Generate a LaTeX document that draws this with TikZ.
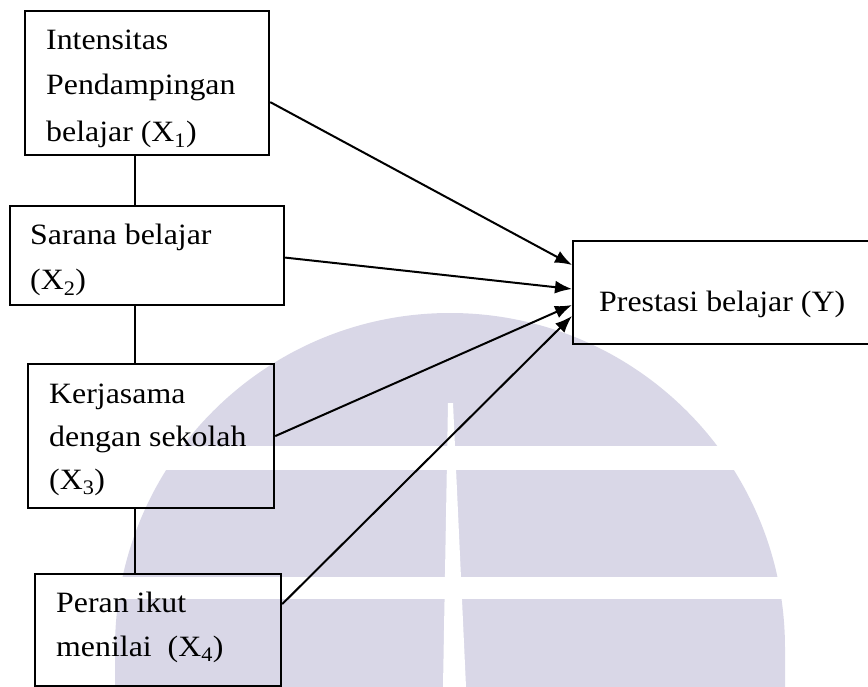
\documentclass[tikz,border=0pt]{standalone}
\usepackage{fontspec}
\setmainfont{Liberation Serif}[FakeStretch=1.08]
\usetikzlibrary{arrows.meta,calc}
\definecolor{dome}{RGB}{217,215,231}
\begin{document}
\begin{tikzpicture}[x=1pt,y=-1pt,
  box/.style={draw=black,line width=2.2pt,inner sep=0pt,anchor=north west},
  lbl/.style={anchor=base west,inner sep=0pt,font=\fontsize{29.5}{35}\selectfont},
  link/.style={line width=1.6pt},
  arr/.style={line width=2pt,-{Latex[length=17pt,width=13pt]}}]
\useasboundingbox (0,0) rectangle (868,687);

% background dome emblem with its window bars
\fill[dome] (115,648) arc[start angle=180,end angle=360,radius=335] -- (785,687) -- (115,687) -- cycle;
\fill[white] (100,446) rectangle (800,470);
\fill[white] (100,577) rectangle (800,599);
\fill[white] (448,403) -- (453,403) -- (466,687) -- (443,687) -- cycle;

% variable boxes
\node[box,minimum width=244pt,minimum height=144pt] (b1) at (24,10) {};
\node[box,minimum width=274pt,minimum height=99pt]  (b2) at (9,205) {};
\node[box,minimum width=246pt,minimum height=144pt] (b3) at (27,363) {};
\node[box,minimum width=246pt,minimum height=112pt] (b4) at (34,573) {};
\node[box,minimum width=299pt,minimum height=103pt] (y)  at (572,240) {};

% box texts
\node[lbl] (t1a) at (46,50)  {Intensitas};
\node[lbl] (t1b) at (46,95)  {Pendampingan};
\node[lbl] (t1c) at (46,142) {belajar (X\textsubscript{1})};
\node[lbl] (t2a) at (30,245) {Sarana belajar};
\node[lbl] (t2b) at (30,290) {(X\textsubscript{2})};
\node[lbl] (t3a) at (49,403) {Kerjasama};
\node[lbl] (t3b) at (49,446) {dengan sekolah};
\node[lbl] (t3c) at (49,489) {(X\textsubscript{3})};
\node[lbl] (t4a) at (56,612) {Peran ikut};
\node[lbl] (t4b) at (56,656) {menilai\ \ (X\textsubscript{4})};
\node[lbl] (ty)  at (599,312) {Prestasi belajar (Y)};

% vertical links between the independent variables
\coordinate (spine) at (135,0);
\draw[link] (b1.south -| spine) -- (b2.north -| spine);
\draw[link] (b2.south -| spine) -- (b3.north -| spine);
\draw[link] (b3.south -| spine) -- (b4.north -| spine);

% influence arrows
\draw[arr] ($(b1.east)+(0,19)$) -- ($(y.north west)+(0,25)$);
\draw[arr] ($(b2.east)+(0,2)$)  -- ($(y.north west)+(0,49)$);
\draw[arr] (b3.east)            -- ($(y.north west)+(0,65)$);
\draw[arr] ($(b4.east)+(0,-26)$) -- ($(y.north west)+(0,76)$);
\end{tikzpicture}
\end{document}
